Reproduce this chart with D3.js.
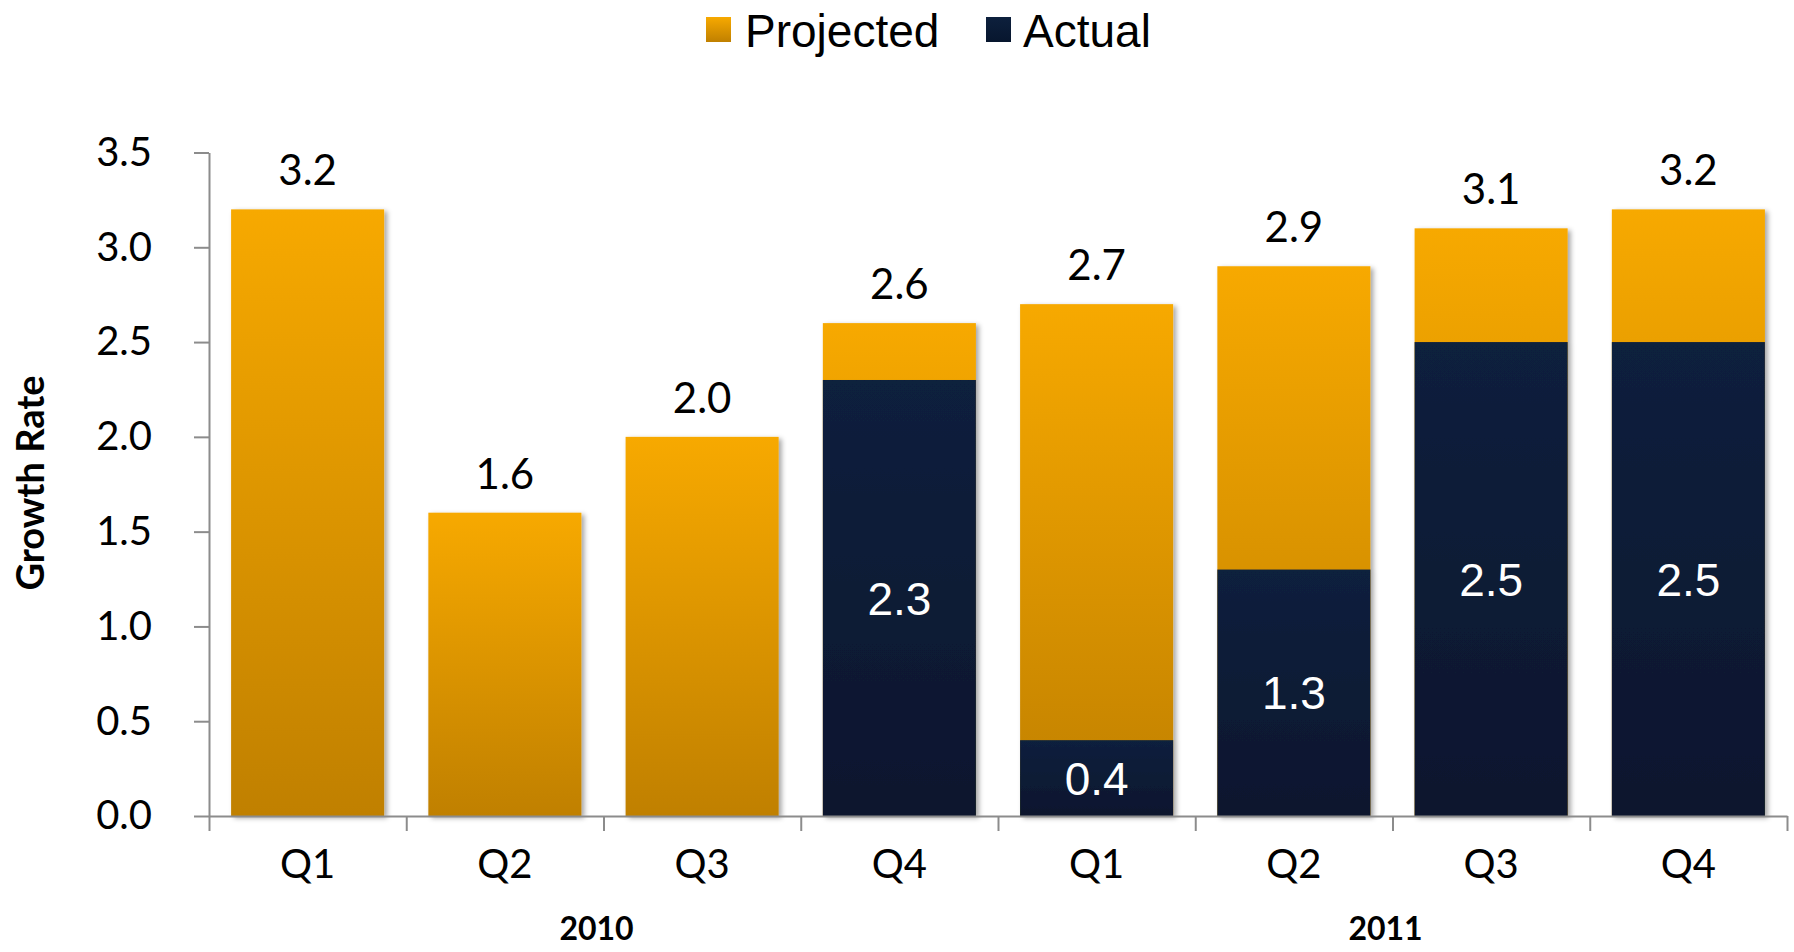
<!DOCTYPE html>
<html>
<head>
<meta charset="utf-8">
<script src="https://cdn.jsdelivr.net/npm/d3@7"></script>
<style>
  body { margin: 0; background: #fff; }
  svg { display: block; }
</style>
</head>
<body>
<script>
// chart values
const quarters = ['Q1', 'Q2', 'Q3', 'Q4', 'Q1', 'Q2', 'Q3', 'Q4'];
const years = ['2010', '2011'];
const projected = [3.2, 1.6, 2.0, 2.6, 2.7, 2.9, 3.1, 3.2];
const actual = [null, null, null, 2.3, 0.4, 1.3, 2.5, 2.5];
const yTicks = [0, 0.5, 1.0, 1.5, 2.0, 2.5, 3.0, 3.5];
const seriesNames = ['Projected', 'Actual'];

const w = 1794,
      h = 952,
      plotLeft = 209,
      plotRight = 1787,
      plotTop = 152.5,
      plotBottom = 816;

const svg = d3.select('body')
            .append('svg')
            .attr('width', w)
            .attr('height', h);

const defs = svg.append('defs');

const gOrange = defs.append('linearGradient')
    .attr('id', 'gradOrange')
    .attr('x1', 0).attr('y1', 0).attr('x2', 0).attr('y2', 1);
gOrange.append('stop').attr('offset', '0%').attr('stop-color', '#f7a900');
gOrange.append('stop').attr('offset', '100%').attr('stop-color', '#c08000');

const gNavy = defs.append('linearGradient')
    .attr('id', 'gradNavy')
    .attr('x1', 0).attr('y1', 0).attr('x2', 0).attr('y2', 1);
gNavy.append('stop').attr('offset', '0%').attr('stop-color', '#0d203d');
gNavy.append('stop').attr('offset', '100%').attr('stop-color', '#07162e');

const shadow = defs.append('filter')
    .attr('id', 'shadow')
    .attr('x', '-10%').attr('y', '-10%')
    .attr('width', '130%').attr('height', '130%');
shadow.append('feDropShadow')
    .attr('dx', 3).attr('dy', 2)
    .attr('stdDeviation', 2.5)
    .attr('flood-color', '#000')
    .attr('flood-opacity', 0.35);

const idx = quarters.map((d, i) => i);

const xScale = d3.scaleBand()
                .domain(idx)
                .range([plotLeft, plotRight])
                .paddingInner(0.224)
                .paddingOuter(0.112);

const yScale = d3.scaleLinear()
                .domain([0, 3.5])
                .range([plotBottom, plotTop]);

// y axis
const yAxis = d3.axisLeft(yScale)
                .tickValues(yTicks)
                .tickFormat(d3.format('.1f'))
                .tickSize(15)
                .tickSizeOuter(0)
                .tickPadding(42);

const yG = svg.append('g')
    .attr('transform', 'translate(' + plotLeft + ',0)')
    .call(yAxis);
yG.select('.domain').attr('stroke', '#8c8c8c').attr('stroke-width', 2);
yG.selectAll('.tick line').attr('stroke', '#8c8c8c').attr('stroke-width', 2);
yG.selectAll('.tick text')
    .attr('font-family', 'Lato, sans-serif')
    .attr('font-size', 40)
    .attr('fill', '#000');

// bars: projected drawn full height, actual laid over it
const bars = svg.selectAll('g.bar')
    .data(idx)
    .enter()
    .append('g')
    .attr('class', 'bar')
    .attr('filter', 'url(#shadow)');

bars.append('rect')
    .attr('x', i => xScale(i))
    .attr('width', xScale.bandwidth())
    .attr('y', i => yScale(projected[i]))
    .attr('height', i => yScale(0) - yScale(projected[i]))
    .attr('fill', 'url(#gradOrange)');

bars.filter(i => actual[i] != null)
    .append('rect')
    .attr('x', i => xScale(i))
    .attr('width', xScale.bandwidth())
    .attr('y', i => yScale(actual[i]))
    .attr('height', i => yScale(0) - yScale(actual[i]))
    .attr('fill', 'url(#gradNavy)');

// x axis (tick marks on band edges)
const edgeScale = d3.scaleLinear()
    .domain([0, quarters.length])
    .range([plotLeft, plotRight]);
const xAxis = d3.axisBottom(edgeScale)
    .tickValues(d3.range(quarters.length + 1))
    .tickFormat('')
    .tickSize(15)
    .tickSizeOuter(0);
const xG = svg.append('g')
    .attr('transform', 'translate(0,' + plotBottom + ')')
    .call(xAxis);
xG.select('.domain').attr('stroke', '#8c8c8c').attr('stroke-width', 2);
xG.selectAll('.tick line').attr('stroke', '#8c8c8c').attr('stroke-width', 2);

// quarter labels
svg.selectAll('text.q')
    .data(idx)
    .enter()
    .append('text')
    .attr('class', 'q')
    .attr('x', i => xScale(i) + xScale.bandwidth() / 2)
    .attr('y', 878)
    .attr('text-anchor', 'middle')
    .attr('font-family', 'Lato, sans-serif')
    .attr('font-size', 40)
    .text(i => quarters[i]);

// year labels
svg.selectAll('text.year')
    .data(years)
    .enter()
    .append('text')
    .attr('class', 'year')
    .attr('x', (d, j) => (edgeScale(j * 4) + edgeScale(j * 4 + 4)) / 2 - 7)
    .attr('y', 940)
    .attr('text-anchor', 'middle')
    .attr('font-family', 'Lato, sans-serif')
    .attr('font-weight', 'bold')
    .attr('font-size', 32)
    .text(d => d);

// total labels above bars
svg.selectAll('text.total')
    .data(idx)
    .enter()
    .append('text')
    .attr('class', 'total')
    .attr('x', i => xScale(i) + xScale.bandwidth() / 2)
    .attr('y', i => yScale(projected[i]) - 24)
    .attr('text-anchor', 'middle')
    .attr('font-family', 'Lato, sans-serif')
    .attr('font-size', 42)
    .text(i => d3.format('.1f')(projected[i]));

// actual labels inside bars
svg.selectAll('text.act')
    .data(idx.filter(i => actual[i] != null))
    .enter()
    .append('text')
    .attr('class', 'act')
    .attr('x', i => xScale(i) + xScale.bandwidth() / 2)
    .attr('y', i => yScale(actual[i] / 2))
    .attr('dy', '0.36em')
    .attr('text-anchor', 'middle')
    .attr('font-family', '"Liberation Sans", Arial, sans-serif')
    .attr('font-size', 46)
    .attr('fill', '#fff')
    .text(i => d3.format('.1f')(actual[i]));

// y title
svg.append('text')
    .attr('transform', 'translate(44,483) rotate(-90)')
    .attr('text-anchor', 'middle')
    .attr('font-family', 'Lato, sans-serif')
    .attr('font-weight', 'bold')
    .attr('font-size', 38)
    .text('Growth Rate');

// legend
const legendX = [706, 986];
const legendFill = ['url(#gradOrange)', 'url(#gradNavy)'];
const legend = svg.selectAll('g.legend')
    .data(seriesNames)
    .enter()
    .append('g')
    .attr('class', 'legend')
    .attr('transform', (d, i) => 'translate(' + legendX[i] + ',17)');
legend.append('rect')
    .attr('width', 25)
    .attr('height', 25)
    .attr('fill', (d, i) => legendFill[i]);
legend.append('text')
    .attr('x', (d, i) => i === 0 ? 39 : 37)
    .attr('y', 30)
    .attr('font-family', '"Liberation Sans", Arial, sans-serif')
    .attr('font-size', 46)
    .text(d => d);
</script>
</body>
</html>
